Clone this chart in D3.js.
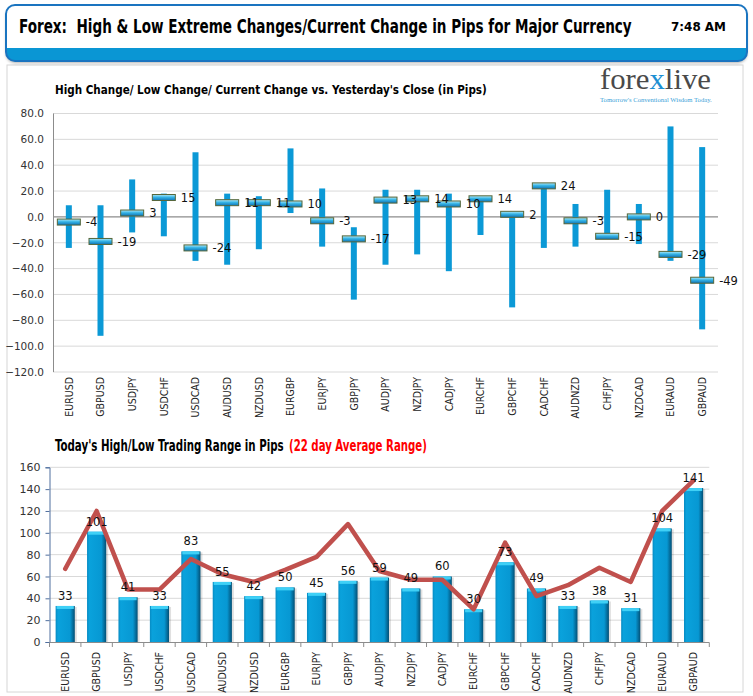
<!DOCTYPE html>
<html><head><meta charset="utf-8">
<script src="https://cdn.jsdelivr.net/npm/d3@7"></script>
<style>
html,body{margin:0;padding:0;background:#fff;}
svg{display:block;}
</style></head>
<body>
<svg id="c" width="753" height="696"></svg>
<script>
// ---------- DATA ----------
const categories = ["EURUSD","GBPUSD","USDJPY","USDCHF","USDCAD","AUDUSD","NZDUSD","EURGBP","EURJPY","GBPJPY","AUDJPY","NZDJPY","CADJPY","EURCHF","GBPCHF","CADCHF","AUDNZD","CHFJPY","NZDCAD","EURAUD","GBPAUD"];
const highChange = [9, 9, 29, 18, 50, 18, 16, 53, 22, -8, 21, 21, 18, 14, 2, 24, 10, 21, 10, 70, 54];
const lowChange = [-24, -92, -12, -15, -34, -37, -25, 3, -23, -64, -37, -29, -42, -14, -70, -24, -23, -15, -21, -34, -87];
const currentChange = [-4, -19, 3, 15, -24, 11, 11, 10, -3, -17, 13, 14, 10, 14, 2, 24, -3, -15, 0, -29, -49];
const topTicks = [80, 60, 40, 20, 0, -20, -40, -60, -80, -100, -120];

const todayRange = [33, 101, 41, 33, 83, 55, 42, 50, 45, 56, 59, 49, 60, 30, 73, 49, 33, 38, 31, 104, 141];
const avgRange22 = [67, 120, 48, 48, 76, 62, 55, 66, 78, 108, 65, 57, 57, 30, 91, 42, 52, 68, 55, 120, 148];
const bottomTicks = [0, 20, 40, 60, 80, 100, 120, 140, 160];

const titleText = "Forex:  High & Low Extreme Changes/Current Change in Pips for Major Currency";
const timeText = "7:48 AM";
const topTitle = "High Change/ Low Change/ Current Change vs. Yesterday's Close (in Pips)";
const bottomTitleA = "Today's High/Low Trading Range in Pips";
const bottomTitleB = "(22 day Average Range)";

// ---------- DRAW ----------
const svg = d3.select("#c");
const defs = svg.append("defs");
const COND = "'DejaVu Sans Condensed','DejaVu Sans',sans-serif";

// place a text at (x,y) and squeeze it horizontally to the given width
function fitText(sel, x, y, width) {
  sel.attr("x", 0).attr("y", 0).style("white-space", "pre");
  const len = sel.node().getComputedTextLength();
  sel.attr("transform", `translate(${x},${y}) scale(${width/len},1)`);
  return sel;
}

// gradients
const mg = defs.append("linearGradient").attr("id","mk").attr("x1",0).attr("y1",0).attr("x2",0).attr("y2",1);
mg.append("stop").attr("offset","0%").attr("stop-color","#b6ecfa");
mg.append("stop").attr("offset","45%").attr("stop-color","#35b4e6");
mg.append("stop").attr("offset","100%").attr("stop-color","#0f72b5");
const bg = defs.append("linearGradient").attr("id","bar").attr("x1",0).attr("y1",0).attr("x2",1).attr("y2",0);
bg.append("stop").attr("offset","0%").attr("stop-color","#078ac2");
bg.append("stop").attr("offset","12%").attr("stop-color","#0aa2dc");
bg.append("stop").attr("offset","75%").attr("stop-color","#0798d3");
bg.append("stop").attr("offset","100%").attr("stop-color","#034f75");
const sh = defs.append("filter").attr("id","sh").attr("x","-5%").attr("y","-20%").attr("width","110%").attr("height","150%");
sh.append("feDropShadow").attr("dx",0).attr("dy",2).attr("stdDeviation",1.5).attr("flood-color","#000").attr("flood-opacity",0.3);
defs.append("clipPath").attr("id","hclip").append("rect")
  .attr("x",6).attr("y",5).attr("width",741).attr("height",56).attr("rx",9);

// panel
svg.append("rect").attr("x",7).attr("y",65).attr("width",736).attr("height",627)
  .attr("fill","#fff").attr("stroke","#d6d6d6").attr("stroke-width",1);

// header
svg.append("rect").attr("x",6).attr("y",5).attr("width",741).attr("height",56).attr("rx",9)
  .attr("fill","#fff").attr("filter","url(#sh)");
svg.append("rect").attr("x",6).attr("y",48).attr("width",741).attr("height",14)
  .attr("fill","#0a96d4").attr("clip-path","url(#hclip)");
svg.append("rect").attr("x",6).attr("y",5).attr("width",741).attr("height",56).attr("rx",9)
  .attr("fill","none").attr("stroke","#1a74c0").attr("stroke-width",2);
fitText(svg.append("text").attr("font-family",COND).attr("font-weight","bold")
  .attr("font-size",20).attr("fill","#000").text(titleText), 19, 33, 613);
fitText(svg.append("text").attr("font-family","'DejaVu Sans',sans-serif").attr("font-weight","bold")
  .attr("font-size",12).attr("fill","#000").text(timeText), 671, 31, 55);

// logo
const logo = svg.append("text").attr("font-family","'Liberation Serif','DejaVu Serif',serif")
  .attr("font-size",29).attr("fill","#4a4a4a");
logo.append("tspan").text("fore");
logo.append("tspan").attr("fill","#1c8fd3").text("x");
logo.append("tspan").text("live");
fitText(logo, 600, 89, 111);
fitText(svg.append("text").attr("font-family","'Liberation Serif',serif")
  .attr("font-size",7).attr("fill","#3a9fd8").text("Tomorrow's Conventional Wisdom Today."), 600, 102, 112);

// ---------- TOP CHART ----------
fitText(svg.append("text").attr("font-family",COND).attr("font-weight","bold")
  .attr("font-size",13).attr("fill","#000").text(topTitle), 55, 94, 432);

const tx = d3.scaleBand().domain(categories).range([53, 718]);
const ty = d3.scaleLinear().domain([-120, 80]).range([372, 113.5]);
const gT = svg.append("g");
gT.selectAll("line.grid").data(topTicks).join("line")
  .attr("x1",53).attr("x2",718).attr("y1",d=>ty(d)).attr("y2",d=>ty(d))
  .attr("stroke", d=> d===0 ? "#8c8c8c" : "#d9d9d9").attr("stroke-width", d=> d===0?1.2:1);
gT.append("line").attr("x1",53.5).attr("x2",53.5).attr("y1",ty(80)).attr("y2",ty(-120)).attr("stroke","#8c8c8c");
const yAxT = d3.axisLeft(ty).tickValues(topTicks).tickFormat(d3.format(".1f")).tickSize(0).tickPadding(9);
const ga = gT.append("g").attr("transform","translate(53,0)").call(yAxT);
ga.select(".domain").remove();
ga.selectAll("text").attr("font-family","'DejaVu Sans',sans-serif").attr("font-size",10.5).attr("fill","#333");

// range bars
gT.selectAll("rect.rng").data(categories).join("rect")
  .attr("x",(d)=>tx(d)+tx.bandwidth()/2-3).attr("width",6)
  .attr("y",(d,i)=>ty(highChange[i])).attr("height",(d,i)=>ty(lowChange[i])-ty(highChange[i]))
  .attr("fill","#0b99d6");
// current markers
gT.selectAll("rect.cur").data(categories).join("rect")
  .attr("x",(d)=>tx(d)+tx.bandwidth()/2-11.5).attr("width",23)
  .attr("y",(d,i)=>ty(currentChange[i])-3).attr("height",6)
  .attr("fill","url(#mk)").attr("stroke","#55663a").attr("stroke-width",1);
gT.selectAll("text.cl").data(categories).join("text")
  .attr("x",(d)=>tx(d)+tx.bandwidth()/2+17).attr("y",(d,i)=>ty(currentChange[i])).attr("dy","0.38em")
  .attr("font-family","'DejaVu Sans',sans-serif").attr("font-size",11.5).attr("fill","#111")
  .text((d,i)=>currentChange[i]);
// x labels
gT.selectAll("text.xl").data(categories).join("text")
  .attr("transform",d=>`translate(${tx(d)+tx.bandwidth()/2},377) rotate(-90)`)
  .attr("text-anchor","end").attr("dy","0.36em")
  .attr("font-family",COND).attr("font-size",10.5).attr("fill","#222")
  .text(d=>d);

// ---------- BOTTOM CHART ----------
fitText(svg.append("text").attr("font-family",COND).attr("font-weight","bold")
  .attr("font-size",15).attr("fill","#000").text(bottomTitleA), 55, 451, 229);
fitText(svg.append("text").attr("font-family",COND).attr("font-weight","bold")
  .attr("font-size",15).attr("fill","#ff0000").text(bottomTitleB), 289, 451, 138);

const bx = d3.scaleBand().domain(categories).range([49.5, 709.3]).paddingInner(0.39).paddingOuter(0.195);
const by = d3.scaleLinear().domain([0, 160]).range([642, 467.3]);
const gB = svg.append("g");
gB.selectAll("line.grid").data(bottomTicks.filter(d=>d>0)).join("line")
  .attr("x1",49.5).attr("x2",709.3).attr("y1",d=>by(d)).attr("y2",d=>by(d))
  .attr("stroke","#d9d9d9");
const yAxB = d3.axisLeft(by).tickValues(bottomTicks).tickSize(4).tickPadding(5);
const gb = gB.append("g").attr("transform","translate(49.5,0)").call(yAxB);
gb.select(".domain").attr("stroke","#4e6e9e");
gb.selectAll(".tick line").attr("stroke","#4e6e9e");
gb.selectAll("text").attr("font-family","'DejaVu Sans',sans-serif").attr("font-size",11).attr("fill","#333");

// bars
gB.selectAll("rect.sh").data(categories).join("rect")
  .attr("x",d=>bx(d)+2).attr("width",bx.bandwidth())
  .attr("y",(d,i)=>by(todayRange[i])+1).attr("height",(d,i)=>by(0)-by(todayRange[i])-1)
  .attr("fill","#000").attr("opacity",0.12);
gB.selectAll("rect.bar").data(categories).join("rect")
  .attr("x",d=>bx(d)).attr("width",bx.bandwidth())
  .attr("y",(d,i)=>by(todayRange[i])).attr("height",(d,i)=>by(0)-by(todayRange[i]))
  .attr("fill","url(#bar)");
gB.selectAll("rect.cap").data(categories).join("rect")
  .attr("x",d=>bx(d)+1).attr("width",bx.bandwidth()-2)
  .attr("y",(d,i)=>by(todayRange[i])).attr("height",3)
  .attr("fill","#3fd0f6");

// x axis
gB.append("line").attr("x1",49.5).attr("x2",709.3).attr("y1",642.5).attr("y2",642.5).attr("stroke","#8c8c8c");
gB.selectAll("line.xt").data(d3.range(categories.length+1)).join("line")
  .attr("x1",i=>49.5+i*bx.step()).attr("x2",i=>49.5+i*bx.step())
  .attr("y1",642.5).attr("y2",647).attr("stroke","#8c8c8c");
gB.selectAll("text.xl").data(categories).join("text")
  .attr("transform",d=>`translate(${bx(d)+bx.bandwidth()/2},652) rotate(-90)`)
  .attr("text-anchor","end").attr("dy","0.36em")
  .attr("font-family",COND).attr("font-size",10.5).attr("fill","#222")
  .text(d=>d);

// line
const line = d3.line().x((d,i)=>bx(categories[i])+bx.bandwidth()/2).y(d=>by(d));
gB.append("path").datum(avgRange22).attr("d",line).attr("fill","none")
  .attr("stroke","#c0504d").attr("stroke-width",4.5).attr("stroke-linejoin","round").attr("stroke-linecap","round");

// bar labels
gB.selectAll("text.bl").data(categories).join("text")
  .attr("x",d=>bx(d)+bx.bandwidth()/2).attr("y",(d,i)=>by(todayRange[i])-6)
  .attr("text-anchor","middle").attr("font-family","'DejaVu Sans',sans-serif").attr("font-size",11.5).attr("fill","#111")
  .text((d,i)=>todayRange[i]);
</script>
</body></html>
